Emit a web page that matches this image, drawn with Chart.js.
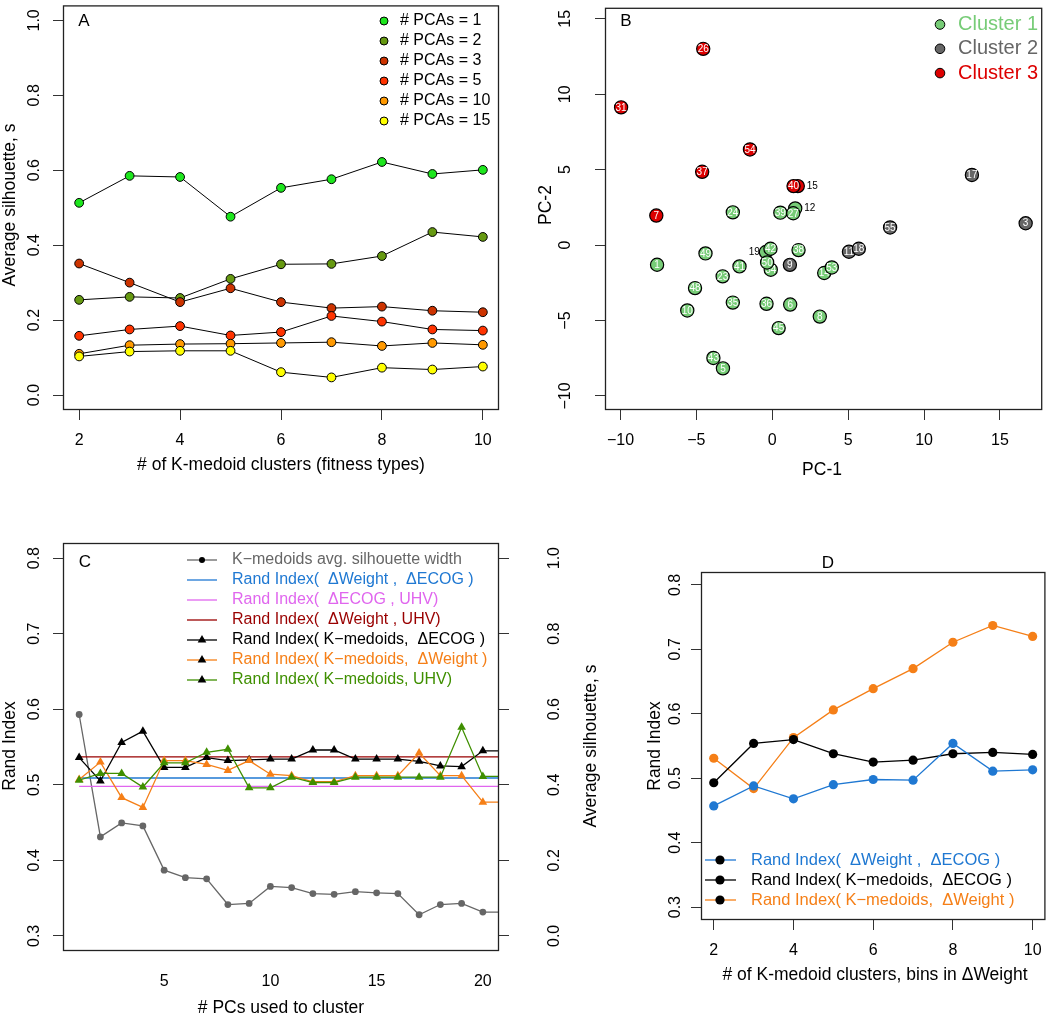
<!DOCTYPE html>
<html>
<head>
<meta charset="utf-8">
<script src="https://cdn.jsdelivr.net/npm/chart.js@4.4.1/dist/chart.umd.min.js"></script>
<style>
    html, body { margin: 0; padding: 0; background: #fff; }
    body { width: 1050px; height: 1018px; position: relative; overflow: hidden; }
    canvas { position: absolute; }
</style>
</head>
<body>
<canvas id="chartA"></canvas>
<canvas id="chartB"></canvas>
<canvas id="chartC"></canvas>
<canvas id="chartD"></canvas>
<script>
// ---------- Panel A: silhouette vs number of clusters ----------
const kClusters = [2, 3, 4, 5, 6, 7, 8, 9, 10];
const silPca1 = [0.513, 0.585, 0.582, 0.476, 0.553, 0.576, 0.622, 0.590, 0.601];
const silPca2 = [0.254, 0.262, 0.259, 0.310, 0.349, 0.350, 0.371, 0.435, 0.422];
const silPca3 = [0.351, 0.300, 0.248, 0.285, 0.248, 0.232, 0.236, 0.225, 0.221];
const silPca5 = [0.158, 0.175, 0.184, 0.159, 0.168, 0.211, 0.196, 0.175, 0.172];
const silPca10 = [0.110, 0.133, 0.136, 0.137, 0.139, 0.141, 0.131, 0.139, 0.134];
const silPca15 = [0.103, 0.116, 0.118, 0.118, 0.061, 0.047, 0.073, 0.068, 0.076];
const pcaLabels = ['# PCAs = 1', '# PCAs = 2', '# PCAs = 3', '# PCAs = 5', '# PCAs = 10', '# PCAs = 15'];
const aXTicks = [2, 4, 6, 8, 10];
const aYTicks = [0, 0.2, 0.4, 0.6, 0.8, 1.0];

// ---------- Panel B: PCA scatter, three clusters ----------
const c1Ids = [24, 39, 27, 49, 1, 42, 38, 50, 41, 53, 23, 48, 35, 36, 6, 10, 8, 45, 43, 5];
const c1X = [-2.60, 0.53, 1.38, -4.40, -7.59, -0.12, 1.73, -0.34, -2.16, 3.92, -3.27, -5.09, -2.60, -0.38, 1.18, -5.60, 3.13, 0.42, -3.88, -3.25];
const c1Y = [2.17, 2.15, 2.11, -0.55, -1.30, -0.24, -0.33, -1.15, -1.41, -1.48, -2.07, -2.85, -3.81, -3.89, -3.94, -4.33, -4.74, -5.50, -7.48, -8.17];
// points partly hidden behind others
const c1UnderIds = [12, 19, 34, 14];
const c1UnderX = [1.51, -0.42, -0.10, 3.42];
const c1UnderY = [2.43, -0.46, -1.63, -1.85];
const c1UnderSide = ['right', 'left', '', ''];
const c2Ids = [17, 3, 55, 18, 9];
const c2X = [13.15, 16.69, 7.76, 5.70, 1.16];
const c2Y = [4.65, 1.45, 1.17, -0.24, -1.31];
const c2UnderIds = [11];
const c2UnderX = [5.05];
const c2UnderY = [-0.44];
const c3Ids = [26, 31, 54, 37, 40, 7];
const c3X = [-4.55, -9.96, -1.47, -4.62, 1.40, -7.64];
const c3Y = [13.01, 9.13, 6.34, 4.86, 3.91, 1.96];
const c3UnderIds = [15];
const c3UnderX = [1.68];
const c3UnderY = [3.91];
const clusterLabels = ['Cluster 1', 'Cluster 2', 'Cluster 3'];
const bTicks = [-10, -5, 0, 5, 10, 15];

// ---------- Panel C: Rand index vs number of PCs ----------
const pcsUsed = [1, 2, 3, 4, 5, 6, 7, 8, 9, 10, 11, 12, 13, 14, 15, 16, 17, 18, 19, 20, 21];
const silWidth = [0.586, 0.262, 0.299, 0.291, 0.174, 0.154, 0.151, 0.083, 0.086, 0.131, 0.128, 0.112, 0.110, 0.117, 0.114, 0.112, 0.056, 0.083, 0.086, 0.063, 0.063];
const riKmEcog = [0.536, 0.505, 0.556, 0.571, 0.523, 0.523, 0.536, 0.532, 0.533, 0.534, 0.534, 0.546, 0.546, 0.534, 0.534, 0.534, 0.531, 0.525, 0.524, 0.545, 0.545];
const riKmWeight = [0.507, 0.530, 0.483, 0.470, 0.532, 0.532, 0.527, 0.519, 0.532, 0.514, 0.512, 0.504, 0.504, 0.512, 0.512, 0.512, 0.542, 0.512, 0.512, 0.477, 0.477];
const riKmUhv = [0.506, 0.515, 0.515, 0.497, 0.529, 0.529, 0.543, 0.547, 0.496, 0.496, 0.510, 0.503, 0.503, 0.510, 0.510, 0.510, 0.510, 0.510, 0.576, 0.511, 0.511];
const riWeightEcog = 0.509;
const riEcogUhv = 0.498;
const riWeightUhv = 0.537;
const cLegend = [
    'K\u2212medoids avg. silhouette width',
    'Rand Index(  \u0394Weight ,  \u0394ECOG )',
    'Rand Index(  \u0394ECOG , UHV)',
    'Rand Index(  \u0394Weight , UHV)',
    'Rand Index( K\u2212medoids,  \u0394ECOG )',
    'Rand Index( K\u2212medoids,  \u0394Weight )',
    'Rand Index( K\u2212medoids, UHV)'
];
const cXTicks = [5, 10, 15, 20];
const cYTicks = [0.3, 0.4, 0.5, 0.6, 0.7, 0.8];
const cY2Ticks = [0, 0.2, 0.4, 0.6, 0.8, 1.0];

// ---------- Panel D: Rand index vs bins ----------
const dBins = [2, 3, 4, 5, 6, 7, 8, 9, 10];
const dRiWeightEcog = [0.457, 0.488, 0.468, 0.490, 0.498, 0.497, 0.554, 0.511, 0.513];
const dRiKmEcog = [0.493, 0.554, 0.560, 0.538, 0.525, 0.528, 0.538, 0.540, 0.537];
const dRiKmWeight = [0.531, 0.484, 0.563, 0.606, 0.639, 0.670, 0.711, 0.737, 0.720];
const dLegend = [
    'Rand Index(  \u0394Weight ,  \u0394ECOG )',
    'Rand Index( K\u2212medoids,  \u0394ECOG )',
    'Rand Index( K\u2212medoids,  \u0394Weight )'
];
const dXTicks = [2, 4, 6, 8, 10];
const dYTicks = [0.3, 0.4, 0.5, 0.6, 0.7, 0.8];

// ---------- colours ----------
const pcaColors = ['#1de61d', '#669911', '#cc3300', '#ff3300', '#ff9900', '#ffff00'];
const clusterColors = ['#77cc77', '#666666', '#dd0000'];
const GREY = '#666666', BLUE = '#1f78d2', PINK = '#e066ee', DARKRED = '#990000', ORANGE = '#f57f17', GREEN = '#3f8f00';

const FONT = '"Liberation Sans", Arial, Helvetica, sans-serif';
Chart.defaults.font.family = FONT;
Chart.defaults.font.size = 16;
Chart.defaults.color = '#000';
Chart.defaults.animation = false;
Chart.defaults.responsive = false;
Chart.defaults.plugins.legend.display = false;
Chart.defaults.plugins.tooltip.enabled = false;

// helpers
const pts = (xs, ys) => xs.map((x, i) => ({ x: x, y: ys[i] }));
const dec1 = v => v.toFixed(1);
const minusFmt = v => (v < 0 ? '\u2212' + Math.abs(v) : String(v));

function setTicks(values) {
    return s => { s.ticks = values.map(v => ({ value: v })); };
}
function fixSize(w, h) {
    return s => {
        if (w !== null) s.width = w;
        if (h !== null) s.height = h;
        s.paddingTop = 0; s.paddingBottom = 0; s.paddingLeft = 0; s.paddingRight = 0;
    };
}
function axis(min, max, ticks, extra) {
    return Object.assign({
        type: 'linear', min: min, max: max,
        afterBuildTicks: setTicks(ticks),
        ticks: { display: false },
        grid: { drawOnChartArea: false, tickLength: 10, color: '#333', tickColor: '#333' },
        border: { display: false }
    }, extra);
}

function text(ctx, str, x, y, size, color, rot, align) {
    ctx.save();
    ctx.translate(x, y);
    if (rot) ctx.rotate(rot);
    ctx.font = size + 'px ' + FONT;
    ctx.fillStyle = color || '#000';
    ctx.textAlign = align || 'center';
    ctx.textBaseline = 'middle';
    ctx.fillText(str, 0, 0);
    ctx.restore();
}

function marker(ctx, kind, x, y, r, fill, stroke) {
    ctx.beginPath();
    if (kind === 'triangle') {
        ctx.moveTo(x, y - r);
        ctx.lineTo(x + r * 0.866, y + r / 2);
        ctx.lineTo(x - r * 0.866, y + r / 2);
        ctx.closePath();
    } else {
        ctx.arc(x, y, r, 0, Math.PI * 2);
    }
    ctx.fillStyle = fill;
    ctx.fill();
    if (stroke) { ctx.strokeStyle = stroke; ctx.lineWidth = 1; ctx.stroke(); }
}

// draws the R-like box, tick labels, titles, legends and point labels
const rFrame = {
    id: 'rFrame',
    afterDatasetDraw(chart, args) {
        const ds = chart.data.datasets[args.index];
        if (!ds.ids) return;
        const ctx = chart.ctx;
        args.meta.data.forEach((p, i) => {
            const side = ds.sides ? ds.sides[i] : '';
            if (side === 'right') text(ctx, String(ds.ids[i]), p.x + 9, p.y, 10, '#000', 0, 'left');
            else if (side === 'left') text(ctx, String(ds.ids[i]), p.x - 6, p.y, 10, '#000', 0, 'right');
            else text(ctx, String(ds.ids[i]), p.x, p.y + 0.5, 10, '#fff');
        });
    },
    afterDraw(chart, args, o) {
        const ctx = chart.ctx, a = chart.chartArea;
        const ox = o.origin[0], oy = o.origin[1];
        ctx.save();
        ctx.strokeStyle = '#222';
        ctx.lineWidth = 1.3;
        ctx.strokeRect(a.left + 0.5, a.top + 0.5, a.right - a.left - 1, a.bottom - a.top - 1);
        ctx.restore();

        (o.yLabels || []).forEach(l => {
            const sc = chart.scales[l.axis];
            sc.ticks.forEach(t => text(ctx, l.fmt(t.value), l.x - ox, sc.getPixelForValue(t.value), 16, '#000', -Math.PI / 2));
        });
        (o.xLabels || []).forEach(l => {
            const sc = chart.scales[l.axis];
            sc.ticks.forEach(t => text(ctx, l.fmt(t.value), sc.getPixelForValue(t.value), l.y - oy, 16));
        });
        (o.texts || []).forEach(t => text(ctx, t.s, t.x - ox, t.y - oy, t.size, t.color, t.rot ? -Math.PI / 2 : 0, t.align));

        const lg = o.legend;
        if (lg) {
            lg.items.forEach((it, i) => {
                const y = lg.y - oy + i * lg.dy;
                if (lg.line) {
                    ctx.save();
                    ctx.strokeStyle = it.color;
                    ctx.lineWidth = 1.3;
                    ctx.beginPath();
                    ctx.moveTo(lg.line[0] - ox, y);
                    ctx.lineTo(lg.line[1] - ox, y);
                    ctx.stroke();
                    ctx.restore();
                }
                if (it.marker) marker(ctx, it.marker, lg.mx - ox, y, it.r, it.fill || it.color, it.stroke);
                text(ctx, it.text, lg.tx - ox, y, lg.size, it.textColor || '#000', 0, 'left');
            });
        }
    }
};

function makePanel(id, f, type, datasets, scales, decor) {
    const cv = document.getElementById(id);
    cv.width = f.w; cv.height = f.h;
    cv.style.left = f.cx + 'px'; cv.style.top = f.cy + 'px';
    decor.origin = [f.cx, f.cy];
    return new Chart(cv.getContext('2d'), {
        type: type,
        data: { datasets: datasets },
        options: {
            layout: { padding: { left: 0, top: f.box[1] - f.cy, right: f.cx + f.w - f.box[2] - (f.rightAxis || 0), bottom: 0 } },
            scales: scales,
            plugins: { rFrame: decor }
        },
        plugins: [rFrame]
    });
}

// ---------- Panel A ----------
const frameA = { cx: 0, cy: 0, w: 525, h: 490, box: [63, 0, 499, 410] };
const aSeries = [silPca1, silPca2, silPca3, silPca5, silPca10, silPca15];
makePanel('chartA', frameA, 'line',
    aSeries.map((s, i) => ({
        label: pcaLabels[i],
        data: pts(kClusters, s),
        order: 6 - i,
        borderColor: '#000', borderWidth: 1,
        pointRadius: 4.4, pointBorderWidth: 1,
        pointBackgroundColor: pcaColors[i], pointBorderColor: '#000'
    })),
    {
        x: axis(1.68, 10.32, aXTicks, { afterFit: fixSize(null, 80) }),
        y: axis(-0.04, 1.04, aYTicks, { afterFit: fixSize(63, null) })
    },
    {
        yLabels: [{ axis: 'y', x: 35, fmt: dec1 }],
        xLabels: [{ axis: 'x', y: 441, fmt: String }],
        texts: [
            { s: 'A', x: 84, y: 21, size: 17 },
            { s: 'Average silhouette, s', x: 10, y: 205, size: 17.5, rot: true },
            { s: '# of K-medoid clusters (fitness types)', x: 281, y: 465, size: 17.5 }
        ],
        legend: {
            x: 0, y: 21, dy: 20, mx: 384, tx: 400, size: 16,
            items: pcaLabels.map((t, i) => ({ text: t, marker: 'circle', r: 4, fill: pcaColors[i], stroke: '#000' }))
        }
    });

// ---------- Panel B ----------
const frameB = { cx: 525, cy: 0, w: 525, h: 490, box: [605, 1, 1047, 410] };
function clusterSet(ids, xs, ys, color, order, sides) {
    return {
        data: pts(xs, ys), ids: ids, sides: sides, order: order,
        pointRadius: 6.6, pointBorderWidth: 1.2,
        pointBackgroundColor: color, pointBorderColor: '#000'
    };
}
makePanel('chartB', frameB, 'scatter',
    [
        clusterSet(c1Ids, c1X, c1Y, clusterColors[0], 1),
        clusterSet(c2Ids, c2X, c2Y, clusterColors[1], 1),
        clusterSet(c3Ids, c3X, c3Y, clusterColors[2], 1),
        clusterSet(c1UnderIds, c1UnderX, c1UnderY, clusterColors[0], 2, c1UnderSide),
        clusterSet(c2UnderIds, c2UnderX, c2UnderY, clusterColors[1], 2),
        clusterSet(c3UnderIds, c3UnderX, c3UnderY, clusterColors[2], 2, ['right'])
    ],
    {
        x: axis(-11.02, 17.78, bTicks, { afterFit: fixSize(null, 80) }),
        y: axis(-10.93, 15.73, bTicks, { afterFit: fixSize(80, null) })
    },
    {
        yLabels: [{ axis: 'y', x: 566, fmt: minusFmt }],
        xLabels: [{ axis: 'x', y: 441, fmt: minusFmt }],
        texts: [
            { s: 'B', x: 626, y: 21, size: 17 },
            { s: 'PC-2', x: 546, y: 205, size: 17.5, rot: true },
            { s: 'PC-1', x: 822, y: 470, size: 17.5 }
        ],
        legend: {
            y: 24.5, dy: 24.3, mx: 940, tx: 958, size: 20,
            items: clusterLabels.map((t, i) => ({ text: t, marker: 'circle', r: 4.8, fill: clusterColors[i], stroke: '#000', textColor: clusterColors[i] }))
        }
    });

// ---------- Panel C ----------
const frameC = { cx: 0, cy: 500, w: 620, h: 518, box: [63, 543, 499, 951], rightAxis: 121 };
function triSet(ys, color, order) {
    return {
        data: pts(pcsUsed, ys), order: order, yAxisID: 'y',
        borderColor: color, borderWidth: 1.3,
        pointStyle: 'triangle', pointRadius: 5, pointBorderWidth: 0,
        pointBackgroundColor: color
    };
}
function hLine(v, color, order) {
    return {
        data: [{ x: 1, y: v }, { x: 21, y: v }], order: order, yAxisID: 'y',
        borderColor: color, borderWidth: 1.3, pointRadius: 0
    };
}
makePanel('chartC', frameC, 'line',
    [
        {
            data: pts(pcsUsed, silWidth), order: 7, yAxisID: 'y2',
            borderColor: GREY, borderWidth: 1.3,
            pointRadius: 3.4, pointBorderWidth: 0, pointBackgroundColor: GREY
        },
        hLine(riWeightEcog, BLUE, 6),
        hLine(riEcogUhv, PINK, 5),
        hLine(riWeightUhv, DARKRED, 4),
        triSet(riKmEcog, '#000', 3),
        triSet(riKmWeight, ORANGE, 2),
        triSet(riKmUhv, GREEN, 1)
    ],
    {
        x: axis(0.24, 20.76, cXTicks, { afterFit: fixSize(null, 67), grid: { display: false } }),
        y: axis(0.28, 0.82, cYTicks, { afterFit: fixSize(63, null) }),
        y2: axis(-0.04, 1.04, cY2Ticks, { position: 'right', afterFit: fixSize(121, null) })
    },
    {
        yLabels: [{ axis: 'y', x: 35, fmt: dec1 }, { axis: 'y2', x: 555, fmt: dec1 }],
        xLabels: [{ axis: 'x', y: 982, fmt: String }],
        texts: [
            { s: 'C', x: 85, y: 562, size: 17 },
            { s: 'Rand Index', x: 10, y: 746, size: 17.5, rot: true },
            { s: 'Average silhouette, s', x: 591, y: 746, size: 17.5, rot: true },
            { s: '# PCs used to cluster', x: 281, y: 1008, size: 17.5 }
        ],
        legend: {
            y: 560, dy: 20, line: [187, 217], mx: 202, tx: 232, size: 16,
            items: [
                { text: cLegend[0], color: GREY, textColor: GREY, marker: 'circle', r: 3 },
                { text: cLegend[1], color: BLUE, textColor: BLUE },
                { text: cLegend[2], color: PINK, textColor: PINK },
                { text: cLegend[3], color: DARKRED, textColor: DARKRED },
                { text: cLegend[4], color: '#000', textColor: '#000', marker: 'triangle', r: 5 },
                { text: cLegend[5], color: ORANGE, textColor: ORANGE, marker: 'triangle', r: 5 },
                { text: cLegend[6], color: GREEN, textColor: GREEN, marker: 'triangle', r: 5 }
            ]
        }
    });

// ---------- Panel D ----------
const frameD = { cx: 630, cy: 500, w: 420, h: 518, box: [701, 572, 1049, 920] };
function dotSet(ys, color, order) {
    return {
        data: pts(dBins, ys), order: order,
        borderColor: color, borderWidth: 1.3,
        pointRadius: 4.6, pointBorderWidth: 0, pointBackgroundColor: color
    };
}
makePanel('chartD', frameD, 'line',
    [
        dotSet(dRiWeightEcog, BLUE, 1),
        dotSet(dRiKmEcog, '#000', 2),
        dotSet(dRiKmWeight, ORANGE, 3)
    ],
    {
        x: axis(1.68, 10.32, dXTicks, { afterFit: fixSize(null, 98) }),
        y: axis(0.28, 0.82, dYTicks, { afterFit: fixSize(71, null) })
    },
    {
        yLabels: [{ axis: 'y', x: 676, fmt: dec1 }],
        xLabels: [{ axis: 'x', y: 951, fmt: String }],
        texts: [
            { s: 'D', x: 828, y: 563, size: 17 },
            { s: 'Rand Index', x: 655, y: 746, size: 17.5, rot: true },
            { s: '# of K-medoid clusters, bins in \u0394Weight', x: 875, y: 975, size: 17.5 }
        ],
        legend: {
            y: 860, dy: 20, line: [705, 736], mx: 720, tx: 751, size: 16.5,
            items: [
                { text: dLegend[0], color: BLUE, textColor: BLUE, marker: 'circle', r: 4.6 },
                { text: dLegend[1], color: '#000', textColor: '#000', marker: 'circle', r: 4.6 },
                { text: dLegend[2], color: ORANGE, textColor: ORANGE, marker: 'circle', r: 4.6 }
            ]
        }
    });
</script>
</body>
</html>
